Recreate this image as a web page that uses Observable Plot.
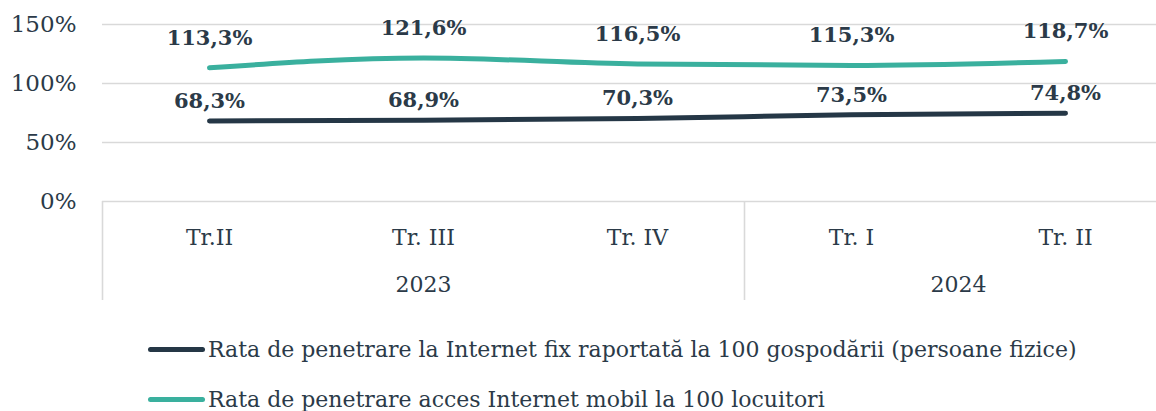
<!DOCTYPE html>
<html><head><meta charset="utf-8">
<script src="https://cdn.jsdelivr.net/npm/d3@7"></script>
<script src="https://cdn.jsdelivr.net/npm/@observablehq/plot@0.6"></script>
<style>
body{margin:0;background:#fff;overflow:hidden;width:1156px;height:411px;font-family:"DejaVu Serif",serif;color:#2b3a48}
#legend{margin-top:19px}
.item{display:flex;align-items:center;height:50px;padding-left:148px;font-size:22px;white-space:nowrap}
.sw{width:57px;height:5px;border-radius:3px;margin-right:3px;flex:none}
</style></head><body><div id="chart"></div><div id="legend"></div>
<script>
const quarters = ["Tr.II", "Tr. III", "Tr. IV", "Tr. I", "Tr. II"];
const years = ["2023", "2023", "2023", "2024", "2024"];
const fixedRate = [68.3, 68.9, 70.3, 73.5, 74.8];
const mobileRate = [113.3, 121.6, 116.5, 115.3, 118.7];
const seriesNames = [
  "Rata de penetrare la Internet fix raportată la 100 gospodării (persoane fizice)",
  "Rata de penetrare acces Internet mobil la 100 locuitori"
];
const seriesColors = ["#253746", "#3AB09E"];
const yTicks = [0, 50, 100, 150];

const rows = [];
[fixedRate, mobileRate].forEach((vals, s) => vals.forEach((v, i) => rows.push({i, v, s: seriesNames[s], si: s})));
const idx = quarters.map((q, i) => i);
const yearGroups = d3.groups(idx, i => years[i]).map(([y, is]) => ({year: y, mid: d3.mean(is), lo: d3.min(is) - 0.5, hi: d3.max(is) + 0.5}));
const seps = Array.from(new Set(yearGroups.flatMap(g => [g.lo, g.hi])));
const fmt = v => v.toFixed(1).replace(".", ",") + "%";
const textColor = "#2b3a48";

const chart = Plot.plot({
  width: 1156, height: 305,
  marginLeft: 102, marginRight: 0, marginTop: 24, marginBottom: 104,
  x: {type: "linear", domain: [-0.5, quarters.length - 0.5], range: [102, 1172], axis: null, label: null},
  y: {domain: [0, 150], axis: null, label: null},
  color: {domain: seriesNames, range: seriesColors},
  style: {fontFamily: "DejaVu Serif", fontSize: "22px", color: textColor, background: "transparent", overflow: "visible"},
  marks: [
    Plot.ruleY(yTicks, {stroke: "#d9d9d9", strokeWidth: 1.6}),
    Plot.axisY(yTicks, {tickFormat: d => d + "%", tickSize: 0, tickPadding: 26, fontSize: 23, fill: textColor, label: null}),
    Plot.axisX(seps, {tickSize: 99, tickFormat: () => "", stroke: "#d9d9d9", strokeWidth: 1.6, label: null}),
    Plot.text(idx, {x: d => d, y: () => 0, text: i => quarters[i], dy: 36, fontSize: 22, fill: textColor}),
    Plot.text(yearGroups, {x: "mid", y: () => 0, text: "year", dy: 83, fontSize: 22, fill: textColor}),
    Plot.line(rows, {x: "i", y: "v", z: "s", stroke: "s", strokeWidth: 5, strokeLinecap: "round", curve: "monotone-x"}),
    Plot.text(rows.filter(d => d.si === 1), {x: "i", y: "v", text: d => fmt(d.v), dy: -30, fontSize: 21, fontWeight: "bold", fill: textColor}),
    Plot.text(rows.filter(d => d.si === 0), {x: "i", y: "v", text: d => fmt(d.v), dy: -20, fontSize: 21, fontWeight: "bold", fill: textColor})
  ]
});
document.getElementById("chart").appendChild(chart);

const legend = document.getElementById("legend");
seriesNames.forEach((n, k) => {
  const it = document.createElement("div");
  it.className = "item";
  const sw = document.createElement("span");
  sw.className = "sw";
  sw.style.background = seriesColors[k];
  const t = document.createElement("span");
  t.textContent = n;
  it.appendChild(sw); it.appendChild(t);
  legend.appendChild(it);
});
</script></body></html>
